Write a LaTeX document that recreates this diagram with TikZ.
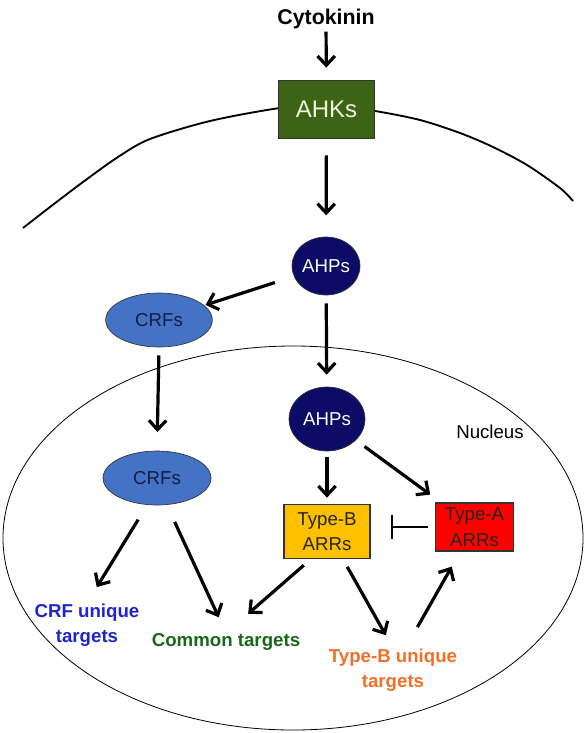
\documentclass[tikz,border=0pt]{standalone}
\usepackage{fontspec}
\setmainfont{Liberation Sans}
\usetikzlibrary{arrows.meta,shapes.geometric}

\definecolor{ahkgreen}{RGB}{60,100,20}
\definecolor{ahktext}{RGB}{238,246,220}
\definecolor{ahpnavy}{RGB}{12,12,102}
\definecolor{crfblue}{RGB}{68,114,196}
\definecolor{crftext}{RGB}{20,28,70}
\definecolor{typebfill}{RGB}{255,192,0}
\definecolor{typeafill}{RGB}{255,0,0}
\definecolor{crflbl}{RGB}{32,36,208}
\definecolor{comgreen}{RGB}{24,104,24}
\definecolor{tborange}{RGB}{240,112,40}

\tikzset{every picture/.style={line width=0.75pt}}
\tikzset{
  arr/.style={line width=2.4pt,-{Straight Barb[length=7pt,width=13pt]}},
  inh/.style={line width=2.2pt,-{Bar[width=18pt,line width=2.2pt]}},
  oval/.style={ellipse,draw=black!80,line width=0.5pt,inner sep=0pt,font=\fontsize{14}{17}\selectfont},
  box/.style={rectangle,draw=black!80,line width=0.8pt,inner sep=0pt,align=center,font=\fontsize{14}{19}\selectfont},
  lbl/.style={inner sep=0pt,align=center,font=\bfseries\fontsize{14}{18.75}\selectfont}
}

\begin{document}
\begin{tikzpicture}[x=0.75pt,y=0.75pt,yscale=-1]
\useasboundingbox (0,0) rectangle (583,733);

%Curve Lines: membrane
\draw[line width=1.4pt] plot[smooth] coordinates {(23,228) (50,207) (83,182) (118,157) (150,139) (210,121) (280,108) (328,105) (375,111) (420,120) (460,133) (493,147) (527,165) (560,188) (573,201)};
%Ellipse: nucleus
\draw[line width=0.6pt] (293,538) ellipse [x radius=290,y radius=192];

% Text Node
\node[lbl,anchor=base,font=\bfseries\fontsize{16}{19}\selectfont] (cyto) at (326,24) {Cytokinin};
% Boxes and ovals
\node[box,fill=ahkgreen,text=ahktext,minimum width=72pt,minimum height=44pt,font=\fontsize{18}{20}\selectfont] (ahk) at (326.5,109.5) {AHKs};
\node[oval,fill=ahpnavy,text=white,minimum width=51pt,minimum height=43.5pt] (ahp1) at (326,266) {AHPs};
\node[oval,fill=crfblue,text=crftext,minimum width=80pt,minimum height=40.5pt] (crf1) at (159,320) {CRFs};
\node[oval,fill=ahpnavy,text=white,minimum width=57pt,minimum height=48pt] (ahp2) at (327,419) {AHPs};
\node[oval,fill=crfblue,text=crftext,minimum width=81pt,minimum height=40.5pt] (crf2) at (157,478) {CRFs};
\node[box,fill=typebfill,text=black!85,minimum width=64.5pt,minimum height=40pt] (typeb) at (327,531.5) {Type-B\\ARRs};
\node[box,fill=typeafill,text=black!85,minimum width=59pt,minimum height=36pt] (typea) at (474.5,527) {Type-A\\ARRs};

% Text Node
\node[inner sep=0pt,font=\fontsize{14}{17}\selectfont] (nuc) at (490,432) {Nucleus};
% Text Node
\node[lbl,text=crflbl,anchor=north] (crft) at (87,603) {CRF unique\\targets};
% Text Node
\node[lbl,text=comgreen,anchor=north] (common) at (226,633) {Common targets};
% Text Node
\node[lbl,text=tborange,anchor=north] (typebt) at (393,648) {Type-B unique\\targets};

%Straight Lines
\draw[arr,shorten <=2pt,shorten >=9pt] (cyto) -- (ahk);
\draw[arr,shorten <=12pt,shorten >=16pt] (ahk) -- (ahp1);
\draw[arr,shorten <=15pt,shorten >=1pt] (ahp1) -- (crf1);
\draw[arr,shorten <=6pt,shorten >=14pt] (crf1.south) -- (crf2.north);
\draw[arr,shorten <=6pt,shorten >=9pt] (ahp1) -- (ahp2);
\draw[arr,shorten <=4pt,shorten >=5pt] (ahp2) -- (typeb);
\draw[arr,shorten <=8pt,shorten >=10pt] (ahp2) -- (typea);
\draw[inh,shorten <=5pt,shorten >=15pt] (typea.west) -- (typea.west -| typeb.east);
\draw[arr,shorten <=13pt,shorten >=14pt] (crf2.250) -- (crft.north);
\draw[arr,shorten <=14pt,shorten >=13pt] (crf2.290) -- (common.north);
\draw[arr,shorten <=7.5pt,shorten >=22pt] (typeb.240) -- (common.north);
\draw[arr,shorten <=7pt,shorten >=11pt] (typeb.300) -- (typebt.north);
\draw[arr,shorten <=18pt,shorten >=13pt] (typebt.60) -- (typea.240);

\end{tikzpicture}
\end{document}
